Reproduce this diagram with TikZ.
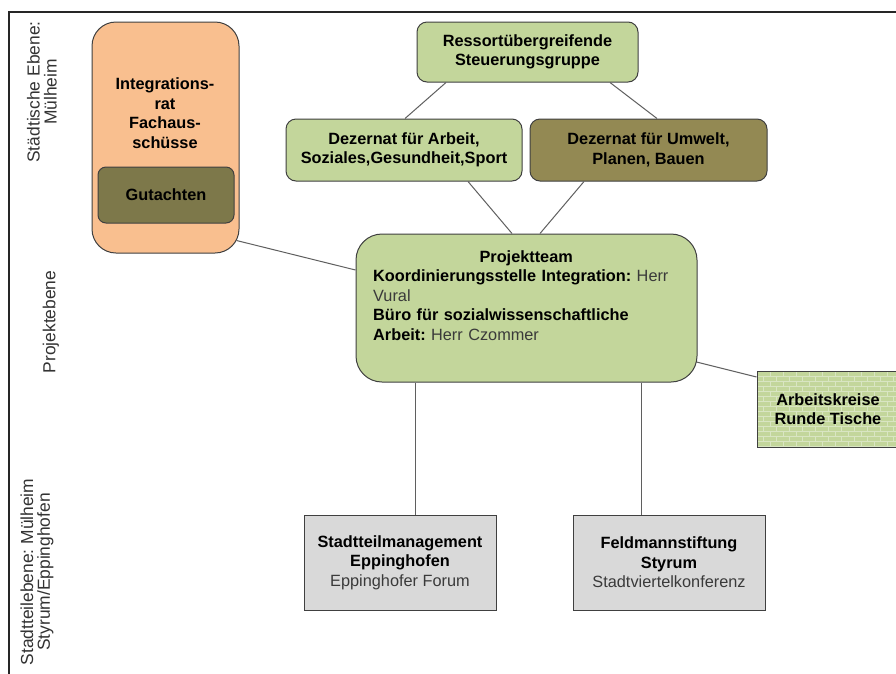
\documentclass[tikz,border=0pt]{standalone}
\usepackage{fontspec}
\setmainfont{Liberation Sans}
\usetikzlibrary{calc}
\definecolor{orangefill}{HTML}{F9BF8F}
\definecolor{greenfill}{HTML}{C3D69B}
\definecolor{olivefill}{HTML}{938953}
\definecolor{darkolive}{HTML}{7D784A}
\definecolor{grayfill}{HTML}{D9D9D9}
\definecolor{borderc}{HTML}{404040}
\definecolor{linec}{HTML}{5F5F5F}
\definecolor{brickc}{HTML}{D9E5C2}
\definecolor{textgray}{HTML}{3A3A3A}
\frenchspacing
\begin{document}
\begin{tikzpicture}[x=1pt,y=-1pt,
  box/.style={draw=borderc, line width=1pt, align=center, inner sep=0pt,
    font=\fontsize{16.3}{19.5}\selectfont\bfseries},
  plain/.style={align=center, inner sep=0pt, font=\fontsize{16.3}{19.5}\selectfont\bfseries},
  conn/.style={draw=linec, line width=1pt},
  lvl/.style={rotate=90, align=center, inner sep=0pt, font=\fontsize{17.4}{17}\selectfont, text=black!80},
  bricks/.style={path picture={
    \foreach \r in {0,...,15}{
      \draw[brickc, line width=0.8pt] ($(path picture bounding box.north west)+(0,\r*5)$) -- ++(170,0);
      \pgfmathsetmacro\off{mod(\r,2)*6.5}
      \foreach \c in {0,...,11}{
        \draw[brickc, line width=0.8pt] ($(path picture bounding box.north west)+(\off+\c*13,\r*5)$) -- ++(0,5);
      }
    }
  }}
]
\clip (0,0) rectangle (896,673);
\fill[white] (0,0) rectangle (896,673);

% frame
\draw[line width=1.5pt, draw=black!85] (900,12) -- (9,12) -- (9,680);

% level labels
\node[lvl] (l1) at (42,92) {Städtische Ebene:\\Mülheim};
\node[lvl] (l2) at (51,322) {Projektebene};
\node[lvl] (l3) at (37,572) {Stadtteilebene: Mülheim\\Styrum/Eppinghofen};

% boxes
\node[box, fill=orangefill, rounded corners=24pt, minimum width=147pt, minimum height=231pt] (integ) at (165.5,137.5) {};
\node[plain] (integtext) at (165,113) {Integrations-\\rat\\Fachaus-\\schüsse};
\node[box, fill=darkolive, rounded corners=8pt, minimum width=136pt, minimum height=56pt] (gut) at (166,195) {Gutachten};

\node[box, fill=greenfill, rounded corners=10pt, minimum width=221pt, minimum height=60pt] (steer) at (527.5,52) {Ressortübergreifende\\Steuerungsgruppe};
\node[box, fill=greenfill, rounded corners=10pt, minimum width=236pt, minimum height=62pt] (dezA) at (404,150) {Dezernat für Arbeit,\\Soziales,Gesundheit,Sport};
\node[box, fill=olivefill, rounded corners=10pt, minimum width=237pt, minimum height=62pt] (dezU) at (648.5,150) {Dezernat für Umwelt,\\Planen, Bauen};

\node[box, fill=greenfill, rounded corners=26pt, minimum width=341pt, minimum height=148pt] (proj) at (526.5,308) {};
\node[anchor=north west, inner sep=0pt, text width=310pt, align=left,
  font=\fontsize{16.3}{19.5}\selectfont] (projtext) at (373,250)
  {\makebox[306pt][c]{\bfseries Projektteam}\\
   \textbf{Koordinierungsstelle Integration:} {\color{textgray}Herr}\\
   {\color{textgray}Vural}\\
   \textbf{Büro für sozialwissenschaftliche}\\
   \textbf{Arbeit:} {\color{textgray}Herr Czommer}};

\node[box, fill=greenfill, bricks, minimum width=142pt, minimum height=76pt] (ak) at (828,409) {Arbeitskreise\\Runde Tische};

\node[box, fill=grayfill, minimum width=192pt, minimum height=95pt] (sm) at (400,562.5)
  {Stadtteilmanagement\\Eppinghofen\\{\mdseries\color{textgray}Eppinghofer Forum}};
\node[box, fill=grayfill, minimum width=192pt, minimum height=95pt] (fs) at (669,562.5)
  {Feldmannstiftung\\Styrum\\{\mdseries\color{textgray}Stadtviertelkonferenz}};

% connectors
\draw[conn] ($(steer.south)+(-81.5,0)$) -- ($(dezA.north)+(1,0)$);
\draw[conn] ($(steer.south)+(82.5,0)$) -- ($(dezU.north)+(8.5,0)$);
\draw[conn] ($(dezA.south)+(64,0)$) -- ($(proj.north)+(-14.5,0)$);
\draw[conn] ($(dezU.south)+(-64.5,0)$) -- ($(proj.north)+(13.5,0)$);
\draw[conn] ($(integ.south east)+(-3,-13)$) -- ($(proj.west)+(0,-38)$);
\draw[conn] ($(proj.east)+(-1,54)$) -- ($(ak.west)+(0,-32)$);
\draw[conn] ($(proj.south)+(-111.5,0)$) -- ($(sm.north)+(15,0)$);
\draw[conn] ($(proj.south)+(114.5,0)$) -- ($(fs.north)+(-28,0)$);
\end{tikzpicture}
\end{document}
